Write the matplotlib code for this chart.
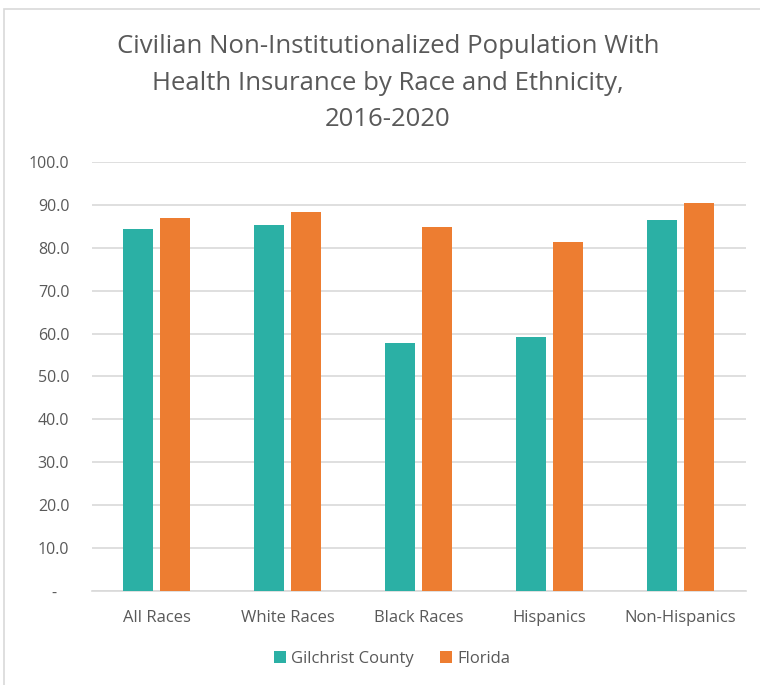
import numpy as np
import matplotlib.pyplot as plt
from matplotlib.patches import Rectangle

categories = ['All Races', 'White Races', 'Black Races', 'Hispanics', 'Non-Hispanics']
gilchrist = [84.5, 85.4, 57.9, 59.3, 86.6]
florida = [87.0, 88.3, 84.9, 81.3, 90.5]
yticks = [0, 10, 20, 30, 40, 50, 60, 70, 80, 90, 100]
ytick_labels = ['-   '] + ['{:.1f}'.format(v) for v in yticks[1:]]

teal = '#2BB0A5'
orange = '#ED7D31'
text_gray = '#595959'

plt.rcParams['font.family'] = ['Open Sans', 'DejaVu Sans']

fig = plt.figure(figsize=(7.6, 6.85), dpi=100)
ax = fig.add_axes([91.5 / 760, 1 - 590.7 / 685, 654 / 760, 428.5 / 685])

# light frame around the whole chart
fig.patches.append(Rectangle((4 / 760, -0.01), 1.0, 1 - 9 / 685 + 0.01,
                             transform=fig.transFigure, fill=False,
                             edgecolor='#D9D9D9', lw=1.2))

x = np.arange(len(categories))
w = 0.229
gap = 0.053
ax.bar(x - (w + gap) / 2, gilchrist, w, color=teal, label='Gilchrist County', zorder=3)
ax.bar(x + (w + gap) / 2, florida, w, color=orange, label='Florida', zorder=3)

ax.set_xlim(-0.5, len(categories) - 0.5)
ax.set_ylim(0, 100)
ax.set_yticks(yticks)
ax.set_yticklabels(ytick_labels)
ax.set_xticks(x)
ax.set_xticklabels(categories)
ax.grid(axis='y', color='#D9D9D9', lw=1.2, zorder=0)
for side in ['top', 'right', 'left']:
    ax.spines[side].set_visible(False)
ax.spines['bottom'].set_color('#D9D9D9')
ax.spines['bottom'].set_linewidth(1.2)
ax.tick_params(axis='x', length=0, colors=text_gray, labelsize=12, pad=14)
ax.tick_params(axis='y', length=0, colors=text_gray, labelsize=11.5, pad=16)

fig.text(388 / 760, 1 - 83 / 685,
         'Civilian Non-Institutionalized Population With\nHealth Insurance by Race and Ethnicity,\n2016-2020',
         ha='center', va='center', fontsize=18.5, color=text_gray, linespacing=1.6)

fig.legend(loc='center', bbox_to_anchor=(392 / 760, 1 - 659 / 685), ncol=2,
           frameon=False, fontsize=12, labelcolor=text_gray,
           handlelength=0.7, handleheight=0.7, handletextpad=0.3, columnspacing=1.6)

fig.savefig('out.png', dpi=100)
